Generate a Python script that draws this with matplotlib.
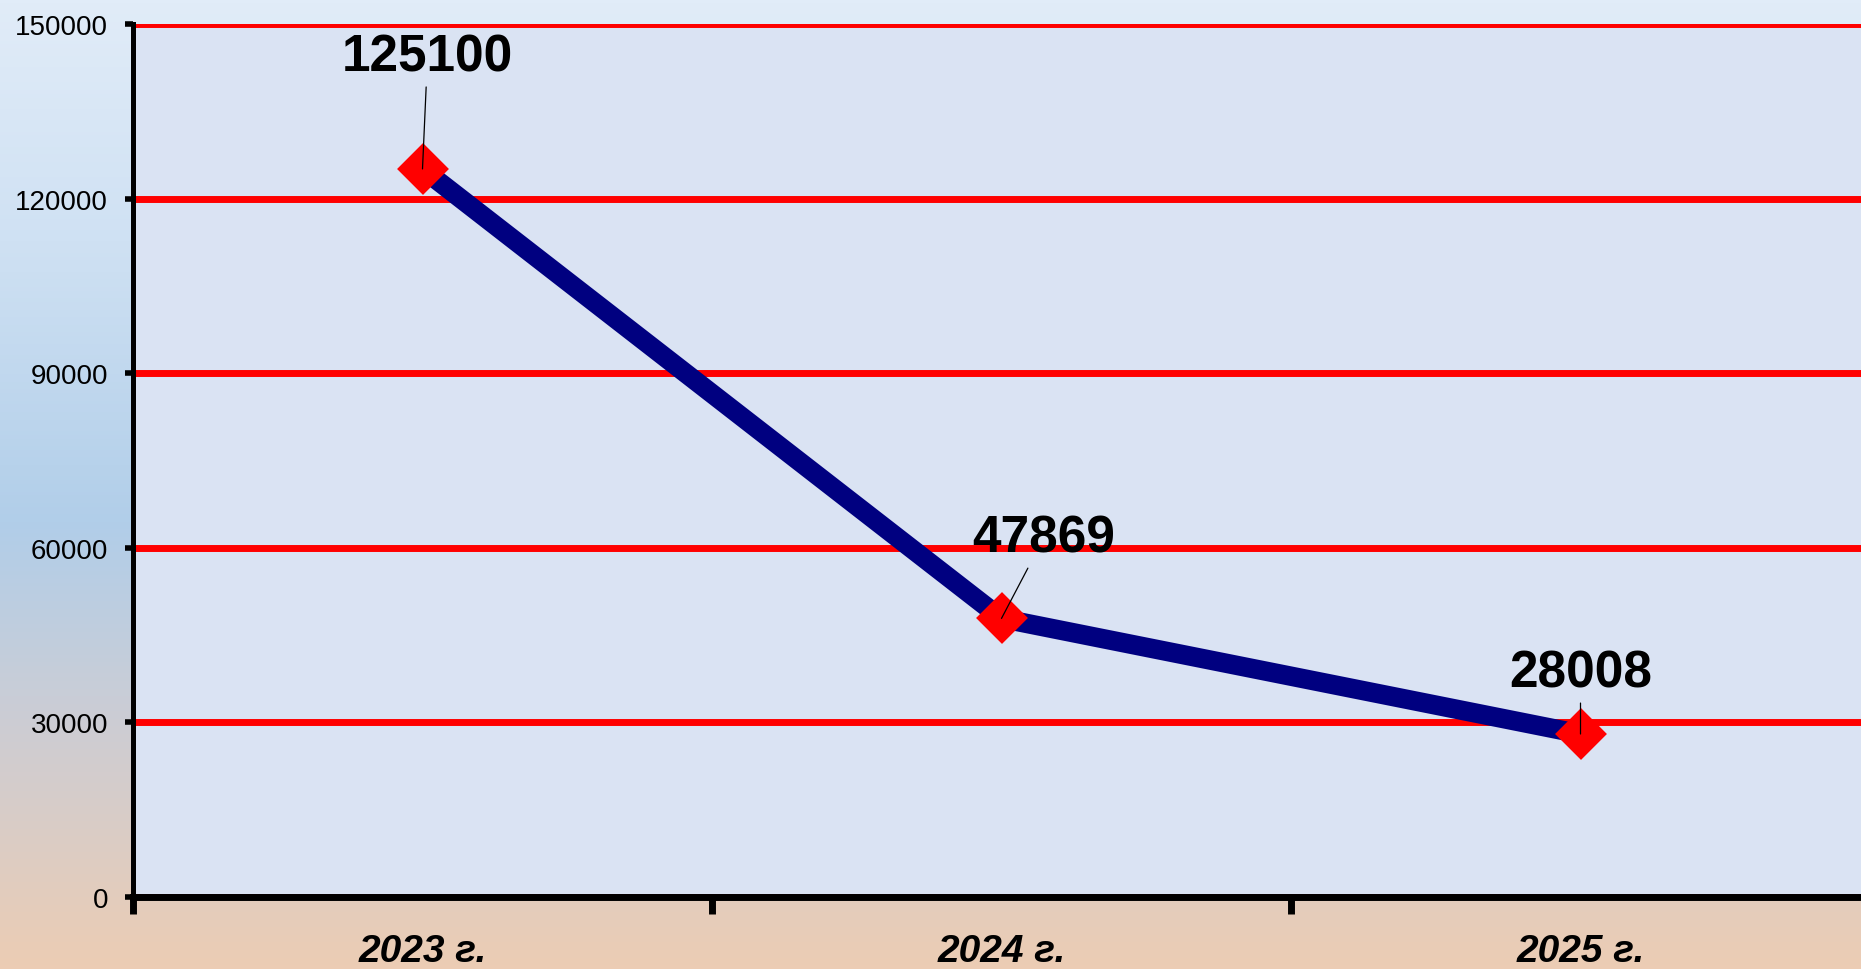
import numpy as np
import matplotlib
matplotlib.use("Agg")
import matplotlib.pyplot as plt
from matplotlib.colors import LinearSegmentedColormap

# данные
years = ["2023 г.", "2024 г.", "2025 г."]
values = [125100, 47869, 28008]
y_ticks = [0, 30000, 60000, 90000, 120000, 150000]
# смещения подписей (пиксели)
label_dx = [5, 42, 0]
label_dy = [112, 80, 61]

plt.rcParams['font.family'] = ['Liberation Sans', 'DejaVu Sans']

fig = plt.figure(figsize=(18.61, 9.70), dpi=100)

# фон - вертикальный градиент
bg = fig.add_axes([0, 0, 1, 1], zorder=0)
cmap = LinearSegmentedColormap.from_list(
    "bg", [(0.0, "#e1ecf8"), (0.25, "#cfe1f3"), (0.54, "#b1cee9"),
           (0.72, "#c9cdd7"), (1.0, "#ecccb4")])
grad = np.linspace(0, 1, 256).reshape(-1, 1)
bg.imshow(grad, aspect="auto", cmap=cmap, extent=[0, 1, 0, 1], origin="upper")
bg.axis("off")

ax = fig.add_axes([133 / 1861, 1 - 898 / 970, 1737 / 1861, 873 / 970], zorder=1)
ax.set_facecolor("#dae3f3")

x = np.arange(len(years))
ax.plot(x, values, color="#000080", lw=14, zorder=3, solid_joinstyle="round")
ax.plot(x, values, linestyle="none", marker="D", ms=22, mfc="red", mec="red",
        mew=4, zorder=4)

for i, v in enumerate(values):
    ax.annotate(str(v), xy=(i, v), xytext=(label_dx[i], label_dy[i]),
                textcoords="offset pixels", ha="center", va="center",
                fontsize=37, fontweight="bold", color="black", zorder=5,
                arrowprops=dict(arrowstyle="-", color="black", lw=0.9,
                                shrinkA=2, shrinkB=0))

ax.set_xlim(-0.5, len(years) - 0.5)
ax.set_ylim(0, 150000)
ax.set_yticks(y_ticks)
ax.set_yticklabels([str(t) for t in y_ticks])
ax.yaxis.grid(True, color="red", lw=5)
ax.set_axisbelow(True)

ax.set_xticks(np.arange(len(years) + 1) - 0.5)
ax.set_xticklabels([])
ax.set_xticks(x, minor=True)
ax.set_xticklabels(years, minor=True, fontsize=28, fontweight="bold",
                   fontstyle="italic")
ax.tick_params(axis="x", which="major", length=12, width=5, direction="out")
ax.tick_params(axis="x", which="minor", length=0, pad=26)
ax.tick_params(axis="y", length=6, width=4, pad=12, labelsize=20)

for s in ["top", "right"]:
    ax.spines[s].set_visible(False)
ax.spines["left"].set_linewidth(3.6)
ax.spines["bottom"].set_linewidth(5)
ax.spines["bottom"].set_zorder(6)

fig.savefig("out.png", dpi=100)
